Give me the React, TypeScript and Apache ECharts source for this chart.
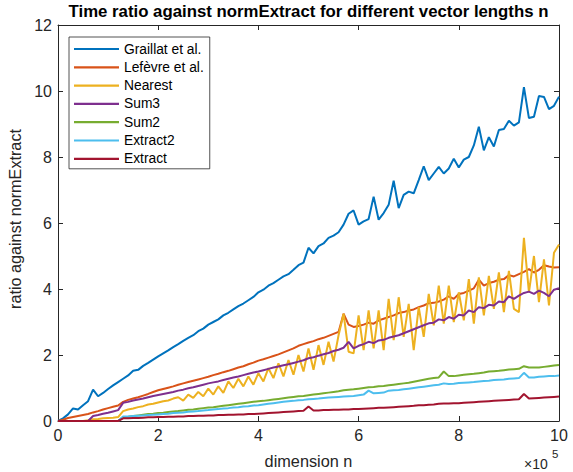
import React, { useEffect, useRef } from "react";
import * as echarts from "echarts";

const FONT = "'Liberation Sans', Arial, Helvetica, sans-serif";
const AXIS_COLOR = "#262626";

const TITLE = "Time ratio against normExtract for different vector lengths n";
const X_NAME = "dimension n";
const Y_NAME = "ratio against normExtract";
const X_EXP_BASE = "×10";
const X_EXP_POWER = "5";

// dimension n in units of 1e5
const dimension = [
  0, 0.1, 0.2, 0.3, 0.4, 0.5, 0.6, 0.7, 0.8, 0.9,
  1, 1.1, 1.2, 1.3, 1.4, 1.5, 1.6, 1.7, 1.8, 1.9,
  2, 2.1, 2.2, 2.3, 2.4, 2.5, 2.6, 2.7, 2.8, 2.9,
  3, 3.1, 3.2, 3.3, 3.4, 3.5, 3.6, 3.7, 3.8, 3.9,
  4, 4.1, 4.2, 4.3, 4.4, 4.5, 4.6, 4.7, 4.8, 4.9,
  5, 5.1, 5.2, 5.3, 5.4, 5.5, 5.6, 5.7, 5.8, 5.9,
  6, 6.1, 6.2, 6.3, 6.4, 6.5, 6.6, 6.7, 6.8, 6.9,
  7, 7.1, 7.2, 7.3, 7.4, 7.5, 7.6, 7.7, 7.8, 7.9,
  8, 8.1, 8.2, 8.3, 8.4, 8.5, 8.6, 8.7, 8.8, 8.9,
  9, 9.1, 9.2, 9.3, 9.4, 9.5, 9.6, 9.7, 9.8, 9.9,
  10,
];

const graillat = [
  0, 0.08, 0.2, 0.38, 0.35, 0.48, 0.6, 0.95, 0.75, 0.85,
  0.97, 1.08, 1.18, 1.28, 1.38, 1.52, 1.55, 1.67, 1.76, 1.86,
  1.96, 2.05, 2.14, 2.24, 2.33, 2.43, 2.52, 2.6, 2.72, 2.8,
  2.92, 3.0, 3.08, 3.2, 3.28, 3.38, 3.48, 3.56, 3.66, 3.76,
  3.9, 3.98, 4.1, 4.18, 4.28, 4.38, 4.45, 4.58, 4.72, 4.8,
  5.25, 5.08, 5.3, 5.38, 5.55, 5.62, 5.72, 5.95, 6.28, 6.38,
  5.95, 6.05, 6.12, 6.8, 6.1, 6.3, 6.55, 7.28, 6.45, 6.85,
  6.95, 6.9, 7.3, 7.72, 7.3, 7.5, 7.7, 7.5, 7.65, 7.95,
  7.68, 7.92, 8.0, 8.35, 8.92, 8.2, 8.6, 8.32, 8.82, 8.85,
  9.1, 8.95, 9.05, 10.12, 9.18, 9.22, 9.85, 9.82, 9.45, 9.55,
  9.83,
];

const lefevre = [
  0, 0.04, 0.09, 0.12, 0.15, 0.18, 0.21, 0.26, 0.3, 0.35,
  0.39, 0.43, 0.47, 0.58, 0.64, 0.68, 0.72, 0.77, 0.82, 0.88,
  0.93, 0.97, 1.01, 1.05, 1.1, 1.14, 1.18, 1.22, 1.26, 1.3,
  1.34, 1.39, 1.43, 1.48, 1.52, 1.57, 1.62, 1.66, 1.72, 1.77,
  1.83, 1.87, 1.92, 1.97, 2.02, 2.08, 2.14, 2.2, 2.28, 2.33,
  2.38, 2.42, 2.48, 2.52, 2.58, 2.64, 2.7, 3.25, 2.92, 2.85,
  2.88, 2.92, 2.98, 2.95, 3.05, 3.1, 3.15, 3.2, 3.27, 3.3,
  3.35, 3.38, 3.45, 3.5, 3.57, 3.58, 3.62, 3.68, 3.78, 3.7,
  3.85, 3.88, 3.95, 4.02, 4.28, 4.1, 4.18, 4.22, 4.28, 4.3,
  4.42, 4.38, 4.45, 4.52, 4.6, 4.5, 4.58, 4.72, 4.68, 4.65,
  4.66,
];

const nearest = [
  0, 0, 0, 0, 0, 0, 0.02, 0.05, 0.06, 0.08,
  0.09, 0.1, 0.12, 0.3, 0.35, 0.38, 0.42, 0.45, 0.5, 0.52,
  0.56, 0.6, 0.62, 0.68, 0.72, 0.62, 0.8, 0.7, 0.88, 0.75,
  0.98, 0.8, 1.05, 0.85, 1.2, 1.0, 1.28, 1.05, 1.35, 1.1,
  1.45, 1.2, 1.6, 1.3, 1.75, 1.35, 1.85, 1.4, 2.0, 1.5,
  2.2, 1.55, 2.3, 1.7, 2.4, 1.8, 2.6, 3.25, 2.1, 2.05,
  3.2, 2.15, 3.35, 2.2, 3.35, 2.15, 3.7, 2.45, 3.75, 2.55,
  3.55, 2.15, 3.45, 2.55, 3.85, 2.9, 4.1, 2.95, 4.1, 3.0,
  3.9, 3.05, 4.3, 2.95, 4.35, 3.2, 4.4, 3.4, 4.5, 3.3,
  4.55, 3.4, 3.3, 5.55, 3.9, 5.0, 3.6, 4.9, 3.5, 5.1,
  5.35,
];

const sum3 = [
  0, 0, 0, 0, 0, 0, 0, 0.15, 0.18, 0.22,
  0.25, 0.29, 0.33, 0.55, 0.58, 0.62, 0.65, 0.68, 0.72, 0.76,
  0.79, 0.82, 0.85, 0.88, 0.92, 0.95, 0.99, 1.02, 1.06, 1.1,
  1.14, 1.17, 1.2, 1.24, 1.28, 1.32, 1.35, 1.39, 1.43, 1.47,
  1.5, 1.54, 1.58, 1.62, 1.65, 1.69, 1.72, 1.76, 1.8, 1.84,
  1.9, 1.93, 1.98, 2.02, 2.06, 2.12, 2.16, 2.22, 2.4, 2.2,
  2.28, 2.33, 2.4, 2.36, 2.44, 2.46, 2.52, 2.56, 2.6, 2.66,
  2.72, 2.78, 2.84, 2.9, 2.96, 2.98, 3.08, 3.05, 3.15, 3.1,
  3.22, 3.2, 3.35, 3.3, 3.45, 3.42, 3.52, 3.5, 3.62, 3.6,
  3.78, 3.7, 3.8, 3.88, 3.92, 3.85, 3.95, 3.88, 3.78, 3.98,
  4.02,
];

const sum2 = [
  0, 0, 0, 0, 0, 0, 0, 0, 0, 0,
  0, 0, 0, 0.12, 0.13, 0.15, 0.17, 0.19, 0.21, 0.22,
  0.24, 0.25, 0.27, 0.29, 0.3, 0.32, 0.34, 0.35, 0.37, 0.39,
  0.41, 0.42, 0.44, 0.46, 0.48, 0.5, 0.52, 0.54, 0.56, 0.58,
  0.6, 0.61, 0.63, 0.65, 0.67, 0.69, 0.71, 0.73, 0.75, 0.76,
  0.78, 0.8, 0.82, 0.84, 0.86, 0.88, 0.9, 0.93, 0.95, 0.96,
  0.98, 1.0, 1.02, 1.03, 1.05, 1.06, 1.08, 1.1, 1.12, 1.14,
  1.16, 1.19, 1.22, 1.25, 1.28, 1.3, 1.32, 1.5, 1.36, 1.36,
  1.38, 1.4, 1.42, 1.43, 1.45, 1.47, 1.5, 1.51, 1.52, 1.54,
  1.56, 1.57, 1.58, 1.66, 1.62, 1.62, 1.62, 1.64, 1.66, 1.68,
  1.7,
];

const extract2 = [
  0, 0, 0, 0, 0, 0, 0, 0, 0, 0,
  0, 0, 0, 0.14, 0.14, 0.15, 0.16, 0.17, 0.18, 0.19,
  0.2, 0.21, 0.22, 0.24, 0.25, 0.26, 0.28, 0.29, 0.3, 0.32,
  0.33, 0.35, 0.36, 0.38, 0.39, 0.41, 0.42, 0.44, 0.45, 0.47,
  0.48, 0.5, 0.52, 0.54, 0.56, 0.58, 0.6, 0.61, 0.63, 0.64,
  0.66, 0.67, 0.68, 0.7, 0.71, 0.72, 0.73, 0.74, 0.75, 0.76,
  0.78, 0.8, 0.92, 0.84, 0.85, 0.86, 0.92, 0.93, 0.94, 0.96,
  0.98, 1.0, 1.02, 1.04, 1.06, 1.08, 1.1, 1.14, 1.12, 1.13,
  1.15, 1.16, 1.17, 1.18, 1.2, 1.21, 1.22, 1.24, 1.25, 1.26,
  1.28, 1.29, 1.3, 1.46, 1.32, 1.32, 1.34, 1.35, 1.36, 1.36,
  1.38,
];

const extract = [
  0, 0, 0, 0, 0, 0, 0, 0, 0, 0,
  0, 0, 0, 0.08, 0.08, 0.09, 0.09, 0.1, 0.11, 0.11,
  0.12, 0.12, 0.13, 0.13, 0.14, 0.14, 0.15, 0.15, 0.16, 0.16,
  0.17, 0.17, 0.18, 0.18, 0.19, 0.19, 0.2, 0.2, 0.21, 0.21,
  0.22, 0.23, 0.24, 0.25, 0.26, 0.27, 0.28, 0.29, 0.3, 0.31,
  0.44, 0.32, 0.32, 0.33, 0.33, 0.34, 0.34, 0.35, 0.35, 0.36,
  0.36, 0.37, 0.38, 0.39, 0.4, 0.4, 0.41, 0.42, 0.43, 0.44,
  0.45, 0.46, 0.48, 0.48, 0.49, 0.5, 0.52, 0.53, 0.53, 0.54,
  0.54, 0.55, 0.56, 0.57, 0.58, 0.59, 0.6, 0.61, 0.62, 0.63,
  0.64, 0.65, 0.66, 0.82, 0.68, 0.69, 0.7, 0.71, 0.72, 0.73,
  0.74,
];

const seriesNames = [
  "Graillat et al.",
  "Lefèvre et al.",
  "Nearest",
  "Sum3",
  "Sum2",
  "Extract2",
  "Extract",
];
const seriesValues = [graillat, lefevre, nearest, sum3, sum2, extract2, extract];
const seriesColors = ["#0072BD", "#D95319", "#EDB120", "#7E2F8E", "#77AC30", "#4DBEEE", "#A2142F"];

const X_MIN = 0;
const X_MAX = 10;
const X_STEP = 2;
const Y_MIN = 0;
const Y_MAX = 12;
const Y_STEP = 2;

export default function App() {
  const ref = useRef<HTMLDivElement>(null);

  useEffect(() => {
    if (!ref.current) return;
    const chart = echarts.init(ref.current, undefined, { renderer: "svg" });

    const axisCommon = {
      type: "value" as const,
      axisLine: { show: true, onZero: false, lineStyle: { color: AXIS_COLOR, width: 1 } },
      axisTick: { show: true, inside: true, length: 5, lineStyle: { color: AXIS_COLOR, width: 1 } },
      splitLine: { show: false },
    };

    const option = {
      animation: false,
      backgroundColor: "#ffffff",
      textStyle: { fontFamily: FONT },
      title: {
        text: TITLE,
        left: 308.5,
        top: 3,
        textAlign: "center",
        padding: 0,
        textStyle: { fontFamily: FONT, fontSize: 16.8, fontWeight: "bold", color: "#000000" },
      },
      grid: { left: 58, top: 25, right: 14, bottom: 51, outerBoundsMode: "none" },
      legend: {
        orient: "vertical",
        left: 69,
        top: 37,
        padding: [5, 6, 3, 5],
        icon: "rect",
        itemWidth: 45,
        itemHeight: 2.2,
        itemGap: 4.3,
        borderColor: AXIS_COLOR,
        borderWidth: 0.8,
        backgroundColor: "#ffffff",
        data: seriesNames,
        textStyle: { fontFamily: FONT, fontSize: 13.8, color: "#000000" },
      },
      xAxis: [
        {
          ...axisCommon,
          position: "bottom",
          min: X_MIN,
          max: X_MAX,
          interval: X_STEP,
          axisLabel: { color: AXIS_COLOR, fontSize: 16, margin: 6, fontFamily: FONT },
          name: X_NAME,
          nameLocation: "middle",
          nameGap: 32,
          nameTextStyle: { color: AXIS_COLOR, fontSize: 16.3, fontFamily: FONT },
        },
        {
          ...axisCommon,
          position: "top",
          min: X_MIN,
          max: X_MAX,
          interval: X_STEP,
          axisLabel: { show: false },
        },
      ],
      yAxis: [
        {
          ...axisCommon,
          position: "left",
          min: Y_MIN,
          max: Y_MAX,
          interval: Y_STEP,
          axisLabel: { color: AXIS_COLOR, fontSize: 16, margin: 6, fontFamily: FONT },
          name: Y_NAME,
          nameLocation: "middle",
          nameGap: 29,
          nameTextStyle: { color: AXIS_COLOR, fontSize: 16.2, fontFamily: FONT, padding: [0, 0, 0, 8] },
        },
        {
          ...axisCommon,
          position: "right",
          min: Y_MIN,
          max: Y_MAX,
          interval: Y_STEP,
          axisLabel: { show: false },
        },
      ],
      graphic: [
        {
          type: "text",
          left: 524,
          top: 457,
          style: { text: X_EXP_BASE, fontSize: 14, fontFamily: FONT, fill: AXIS_COLOR },
        },
        {
          type: "text",
          left: 552,
          top: 448,
          style: { text: X_EXP_POWER, fontSize: 11.5, fontFamily: FONT, fill: AXIS_COLOR },
        },
      ],
      series: seriesNames.map((name, k) => ({
        name,
        type: "line",
        xAxisIndex: 0,
        yAxisIndex: 0,
        data: dimension.map((x, i) => [x, seriesValues[k][i]]),
        showSymbol: false,
        symbol: "none",
        lineStyle: { color: seriesColors[k], width: 2 },
        itemStyle: { color: seriesColors[k] },
        color: seriesColors[k],
      })),
    };

    chart.setOption(option as any);
    return () => {
      chart.dispose();
    };
  }, []);

  return (
    <div
      ref={ref}
      style={{ position: "fixed", left: 0, top: 0, width: 573, height: 472, background: "#fff" }}
    />
  );
}
